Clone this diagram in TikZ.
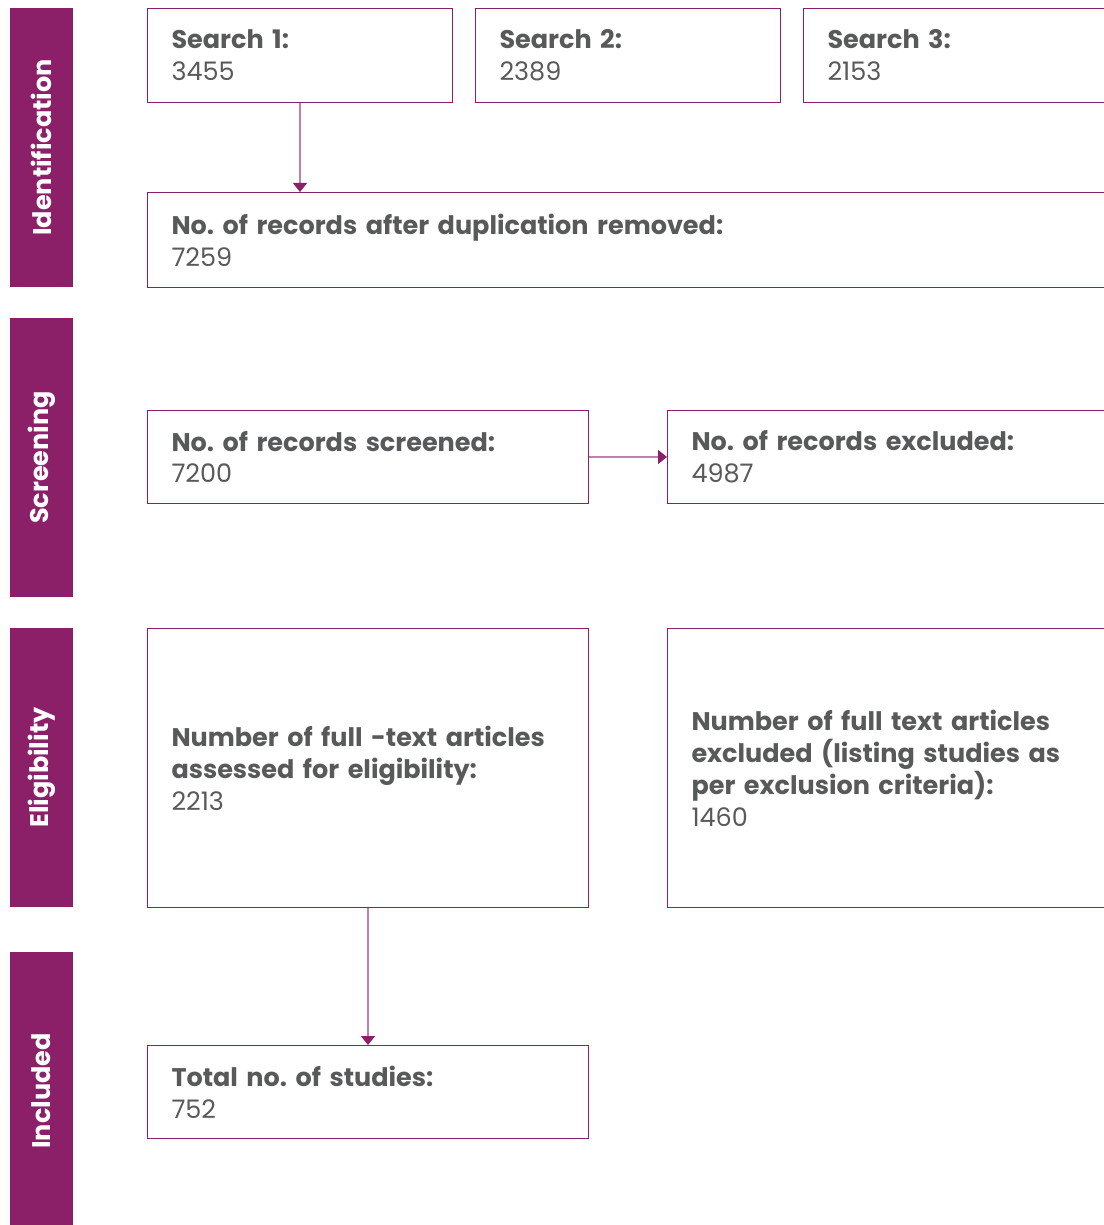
\documentclass[tikz,border=0pt]{standalone}
\usepackage{fontspec}
\setmainfont{Poppins}
\usepackage{xcolor}
\usetikzlibrary{
    positioning,
    arrows.meta
}
\definecolor{prismapurple}{HTML}{8B2069}
\definecolor{prismaline}{HTML}{C27FAE}
\definecolor{prismagrey}{HTML}{58595B}
\frenchspacing

\begin{document}
\begin{tikzpicture}[x=1pt, y=-1pt,
    box/.style={draw=prismapurple, line width=1pt, anchor=north west, inner xsep=24pt, inner ysep=0pt,
        align=left, text=prismagrey, font=\fontsize{25.5}{32}\selectfont},
    phase/.style={fill=prismapurple, rotate=90, minimum height=63pt, inner sep=0pt,
        text=white, font=\bfseries\fontsize{25.5}{30}\selectfont},
    flow/.style={draw=prismaline, line width=1.2pt, -{Triangle[length=9pt, width=14pt, color=prismapurple]}}
]
    \useasboundingbox (0,0) rectangle (1103,1225);
    % phases down the left side
    \node[phase, minimum width=279pt] (identification) at (41.5,147.5) {Identification};
    \node[phase, minimum width=279pt] (screening) at (41.5,457.5) {Screening};
    \node[phase, minimum width=279pt] (eligibility) at (41.5,767.5) {Eligibility};
    \node[phase, minimum width=279pt] (included) at (41.5,1091) {Included};

    % identification
    \node[box, text width=257pt, minimum height=94pt] (search1) at (147,8) {\textbf{Search 1:}\\3455};
    \node[box, text width=257pt, minimum height=94pt] (search2) at (475,8) {\textbf{Search 2:}\\2389};
    \node[box, text width=269pt, minimum height=94pt] (search3) at (803,8) {\textbf{Search 3:}\\2153};
    \node[box, text width=925pt, minimum height=95pt] (deduplicated) at (147,192) {\textbf{No. of records after duplication removed:}\\7259};

    % screening
    \node[box, text width=393pt, minimum height=93pt] (screened) at (147,410) {\textbf{No. of records screened:}\\7200};
    \node[box, text width=405pt, minimum height=93pt] (excluded) at (667,410) {\textbf{No. of records excluded:}\\4987};

    % eligibility
    \node[box, text width=393pt, minimum height=279pt] (fulltext) at (147,628) {\textbf{Number of full -text articles}\\\textbf{assessed for eligibility:}\\2213};
    \node[box, text width=405pt, minimum height=279pt] (fulltextexcl) at (667,628) {\textbf{Number of full text articles}\\\textbf{excluded (listing studies as}\\\textbf{per exclusion criteria):}\\1460};

    % included
    \node[box, text width=393pt, minimum height=93pt] (total) at (147,1045) {\textbf{Total no. of studies:}\\752};

    \draw[flow] (search1.south -| 300,0) -- (deduplicated.north -| 300,0);
    \draw[flow] (screened) -- (excluded.west |- screened);
    \draw[flow] (fulltext.south -| 368,0) -- (total.north -| 368,0);
\end{tikzpicture}
\end{document}
